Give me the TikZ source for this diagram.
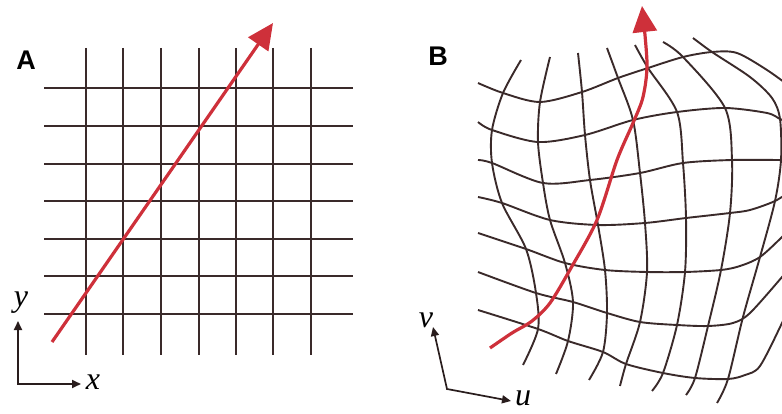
\documentclass[tikz,border=0pt]{standalone}
\usepackage{fontspec}
\setmainfont{Liberation Serif}
\newfontfamily\panelfont{Liberation Sans}
\usepackage{tikz}
\usetikzlibrary{arrows.meta}
\definecolor{gridbrown}{RGB}{58,42,42}
\definecolor{pathred}{RGB}{206,48,58}

\begin{document}
\begin{tikzpicture}[x=1pt, y=-1pt,
  gridline/.style={draw=gridbrown, line width=2pt},
  warpline/.style={draw=gridbrown, line width=1.9pt, smooth},
  trail/.style={draw=pathred, line width=3.2pt, -{Triangle[length=26pt,width=24pt]}},
  axis/.style={draw=gridbrown!70!black, line width=1.7pt,
               {Triangle[length=9pt,width=8pt]}-{Triangle[length=9pt,width=8pt]}},
  axlbl/.style={font=\fontsize{32}{32}\selectfont\itshape, inner sep=0pt},
  panel/.style={font=\panelfont\bfseries\fontsize{27}{27}\selectfont, inner sep=0pt}
]
\useasboundingbox (0,0) rectangle (782,414);

\node[panel] (labA) at (26,60) {A};
\foreach \gx in {86,123,161,199,236,273,311}
  \draw[gridline] (\gx,48) -- (\gx,355);
\foreach \gy in {88,126,164,201,239,276,314}
  \draw[gridline] (44,\gy) -- (353,\gy);
\coordinate (startA) at (52,342);
\coordinate (endA) at (273,23);
\draw[trail] (startA) -- (endA);

\coordinate (yA) at (18,321);
\coordinate (oA) at (18,384);
\coordinate (xA) at (81,384);
\draw[axis] (yA) -- (oA) -- (xA);
\node[axlbl] (ylab) at (21,303) {y};
\node[axlbl] (xlab) at (93,382) {x};

\node[panel] (labB) at (438,56) {B};
\begin{scope}
\clip (0,0) rectangle (782,414);
\draw[warpline] plot coordinates {(478,83) (503,93) (540,102) (582,92) (618,78) (648,68) (683,57) (712,52) (737,53) (767,70) (792,88)};
\draw[warpline] plot coordinates {(478,122) (492,130) (538,142) (585,135) (633,120) (677,112) (725,108) (767,113) (780,119) (792,124)};
\draw[warpline] plot coordinates {(478,160) (492,163) (543,183) (590,180) (640,173) (683,163) (732,160) (781,160) (792,160)};
\draw[warpline] plot coordinates {(478,197) (502,203) (550,220) (598,225) (645,223) (686,218) (730,213) (750,210) (775,201) (792,190)};
\draw[warpline] plot coordinates {(478,233) (526,249) (565,263) (605,270) (647,272) (685,272) (721,270) (740,266) (760,257) (782,237) (792,226)};
\draw[warpline] plot coordinates {(478,272) (536,293) (573,302) (607,313) (640,322) (677,325) (708,326) (733,323) (750,313) (782,277) (792,264)};
\draw[warpline] plot coordinates {(478,310) (538,329) (568,341) (603,352) (626,364) (663,373) (695,378) (728,379) (745,375) (760,366) (782,323) (792,300)};
\draw[warpline] plot coordinates {(521,60) (503,93) (492,130) (492,163) (502,203) (526,249) (536,293) (538,329) (523,365)};
\draw[warpline] plot coordinates {(550,57) (540,102) (538,142) (543,183) (550,220) (565,263) (573,302) (568,341) (556,374)};
\draw[warpline] plot coordinates {(578,53) (582,92) (585,135) (590,180) (598,225) (605,270) (607,313) (603,352) (589,380)};
\draw[warpline] plot coordinates {(607,48) (618,78) (633,120) (640,173) (645,223) (647,272) (640,322) (626,364) (620,386)};
\draw[warpline] plot coordinates {(635,45) (648,68) (677,112) (683,163) (686,218) (685,272) (677,325) (663,373) (652,391)};
\draw[warpline] plot coordinates {(663,42) (683,57) (725,108) (732,160) (730,213) (721,270) (708,326) (695,378) (686,395)};
\draw[warpline] plot coordinates {(693,38) (712,52) (750,77) (772,98) (780,119) (781,160) (775,201) (760,257) (743,317) (728,379) (717,403)};
\end{scope}
\draw[trail, smooth] plot coordinates {(490,348) (512,333) (532,321) (550,303) (571,268) (597,220) (617,160) (633,123) (643,97) (647,63) (642,6)};

\coordinate (vB) at (433,327);
\coordinate (oB) at (447,389);
\coordinate (uB) at (511,401);
\draw[axis] (vB) -- (oB) -- (uB);
\node[axlbl] (vlab) at (426,320) {v};
\node[axlbl] (ulab) at (523,398) {u};
\end{tikzpicture}
\end{document}
